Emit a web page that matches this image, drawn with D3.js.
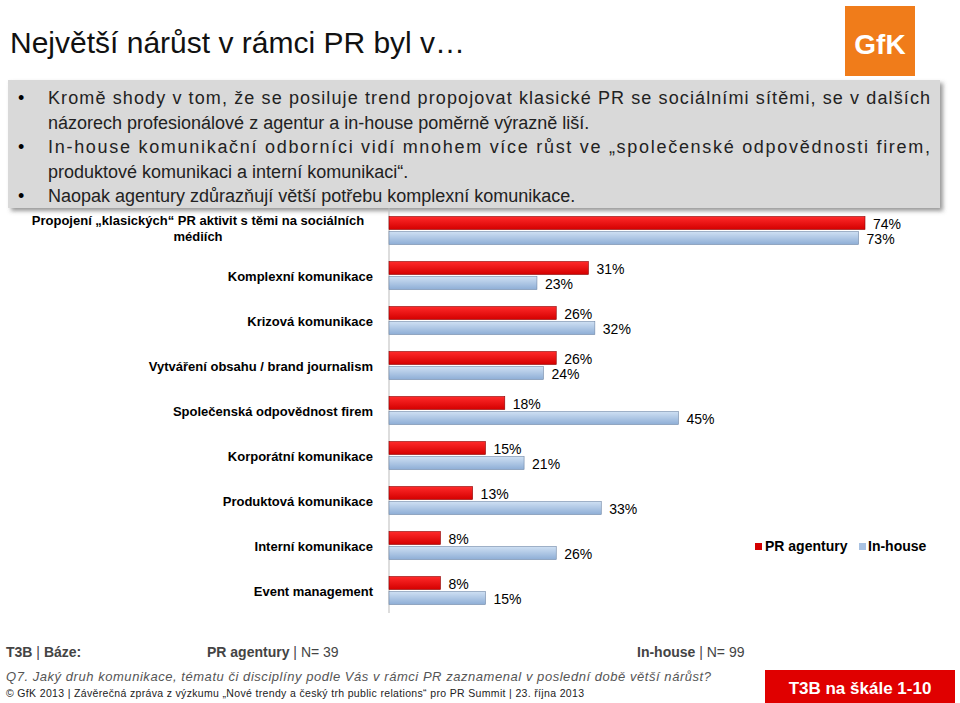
<!DOCTYPE html>
<meta charset="utf-8">
<script src="https://d3js.org/d3.v7.min.js"></script>
<style>
  body { margin: 0; background: #fff; }
  text { font-family: "Liberation Sans", Arial, sans-serif; }
</style>
<body>
<div id="chart"></div>
<script>
// data
const categories = ["Propojení „klasických“ PR aktivit s těmi na sociálních médiích", "Komplexní komunikace", "Krizová komunikace",
  "Vytváření obsahu / brand journalism", "Společenská odpovědnost firem", "Korporátní komunikace",
  "Produktová komunikace", "Interní komunikace", "Event management"];
const prAgentury = [74, 31, 26, 26, 18, 15, 13, 8, 8];
const inHouse = [73, 23, 32, 24, 45, 21, 33, 26, 15];
const bullets = [
  ["Kromě shody v tom, že se posiluje trend propojovat klasické PR se sociálními sítěmi, se v dalších", "názorech profesionálové z agentur a in-house poměrně výrazně liší."],
  ["In-house komunikační odborníci vidí mnohem více růst ve „společenské odpovědnosti firem,", "produktové komunikaci a interní komunikaci“."],
  ["Naopak agentury zdůrazňují větší potřebu komplexní komunikace."]
];

const svg = d3.select("#chart").append("svg").attr("width", 960).attr("height", 703);
const defs = svg.append("defs");
const gr = defs.append("linearGradient").attr("id", "gRed").attr("x1", 0).attr("y1", 0).attr("x2", 0).attr("y2", 1);
gr.append("stop").attr("offset", "0").attr("stop-color", "#ff2a2a");
gr.append("stop").attr("offset", "1").attr("stop-color", "#d40000");
const gb = defs.append("linearGradient").attr("id", "gBlue").attr("x1", 0).attr("y1", 0).attr("x2", 0).attr("y2", 1);
gb.append("stop").attr("offset", "0").attr("stop-color", "#cfe0f3");
gb.append("stop").attr("offset", "1").attr("stop-color", "#8eaed6");
const sh = defs.append("filter").attr("id", "sh");
sh.append("feDropShadow").attr("dx", 3).attr("dy", 3).attr("stdDeviation", 2).attr("flood-color", "#555").attr("flood-opacity", 0.6);

// title
svg.append("text").attr("x", 10).attr("y", 53).attr("font-size", 30).attr("fill", "#111").text("Největší nárůst v rámci PR byl v…");
// logo
svg.append("rect").attr("x", 845).attr("y", 6).attr("width", 70).attr("height", 70).attr("fill", "#f07c1a");
svg.append("text").attr("x", 880).attr("y", 54).attr("text-anchor", "middle").attr("font-size", 28).attr("font-weight", "bold").attr("fill", "#fff").text("GfK");

// bullet box
svg.append("rect").attr("x", 8).attr("y", 80).attr("width", 932).attr("height", 128).attr("fill", "#d9d9d9").attr("filter", "url(#sh)");
let ly = 104;
bullets.forEach(b => {
  svg.append("text").attr("x", 18).attr("y", ly).attr("font-size", 18).text("•");
  b.forEach((line, j) => {
    const t = svg.append("text").attr("x", 48).attr("y", ly).attr("font-size", 18).attr("fill", "#222").text(line);
    if (j < b.length - 1) t.attr("textLength", 882).attr("lengthAdjust", "spacing");
    ly += 24.5;
  });
});

// chart
const x = d3.scaleLinear().domain([0, 74]).range([389, 865]);
const y = d3.scaleBand().domain(categories).range([208, 613]);
const barH = 13;

svg.append("line").attr("x1", 389).attr("x2", 389).attr("y1", 208).attr("y2", 613).attr("stroke", "#bbb");

const g = svg.append("g").selectAll("g").data(categories).join("g");
g.each(function (c, i) {
  const sel = d3.select(this);
  const cy = y(c) + y.bandwidth() / 2;
  sel.append("rect").attr("x", x(0)).attr("y", cy - barH - 1).attr("width", x(prAgentury[i]) - x(0)).attr("height", barH)
    .attr("fill", "url(#gRed)").attr("stroke", "#8a0000").attr("stroke-width", 0.6);
  sel.append("rect").attr("x", x(0)).attr("y", cy + 1).attr("width", x(inHouse[i]) - x(0)).attr("height", barH)
    .attr("fill", "url(#gBlue)").attr("stroke", "#6f86a6").attr("stroke-width", 0.6);
  sel.append("text").attr("x", x(prAgentury[i]) + 8).attr("y", cy - 2).attr("font-size", 14).text(prAgentury[i] + "%");
  sel.append("text").attr("x", x(inHouse[i]) + 8).attr("y", cy + 13).attr("font-size", 14).text(inHouse[i] + "%");
  if (i === 0) {
    sel.append("text").attr("x", 198).attr("y", cy - 6).attr("text-anchor", "middle").attr("font-size", 13).attr("font-weight", "bold")
      .text("Propojení „klasických“ PR aktivit s těmi na sociálních");
    sel.append("text").attr("x", 198).attr("y", cy + 10).attr("text-anchor", "middle").attr("font-size", 13).attr("font-weight", "bold").text("médiích");
  } else {
    sel.append("text").attr("x", 373).attr("y", cy + 5).attr("text-anchor", "end").attr("font-size", 13).attr("font-weight", "bold").text(c);
  }
});

// legend
const lg = svg.append("g").attr("transform", "translate(755,548)");
lg.append("rect").attr("x", 0).attr("y", -5).attr("width", 7).attr("height", 7).attr("fill", "#d40000");
lg.append("text").attr("x", 10).attr("y", 3).attr("font-size", 14).attr("font-weight", "bold").text("PR agentury");
lg.append("rect").attr("x", 104).attr("y", -5).attr("width", 7).attr("height", 7).attr("fill", "#a9c2e2");
lg.append("text").attr("x", 113).attr("y", 3).attr("font-size", 14).attr("font-weight", "bold").text("In-house");

// footer
const f = svg.append("g").attr("fill", "#444");
f.append("text").attr("x", 6).attr("y", 657).attr("font-size", 14).html('<tspan font-weight="bold">T3B</tspan> | <tspan font-weight="bold">Báze:</tspan>');
f.append("text").attr("x", 207).attr("y", 657).attr("font-size", 14).html('<tspan font-weight="bold">PR agentury</tspan> | N= 39');
f.append("text").attr("x", 637).attr("y", 657).attr("font-size", 14).html('<tspan font-weight="bold">In-house</tspan>  | N= 99');
f.append("text").attr("x", 6).attr("y", 681).attr("font-size", 13).attr("font-style", "italic").attr("fill", "#555")
  .attr("textLength", 705).attr("lengthAdjust", "spacing")
  .text("Q7.   Jaký druh komunikace, tématu či disciplíny podle Vás v rámci PR zaznamenal  v poslední době větší nárůst?");
f.append("text").attr("x", 6).attr("y", 697).attr("font-size", 10.5).attr("fill", "#222")
  .attr("textLength", 578).attr("lengthAdjust", "spacing")
  .text("© GfK 2013 | Závěrečná zpráva z výzkumu „Nové trendy a český trh public relations“ pro PR Summit | 23. října 2013");
svg.append("rect").attr("x", 765).attr("y", 670).attr("width", 190).attr("height", 33).attr("fill", "#e00000");
svg.append("text").attr("x", 860).attr("y", 694).attr("text-anchor", "middle").attr("font-size", 17).attr("font-weight", "bold").attr("fill", "#fff").text("T3B na škále 1-10");
</script>
</body>
